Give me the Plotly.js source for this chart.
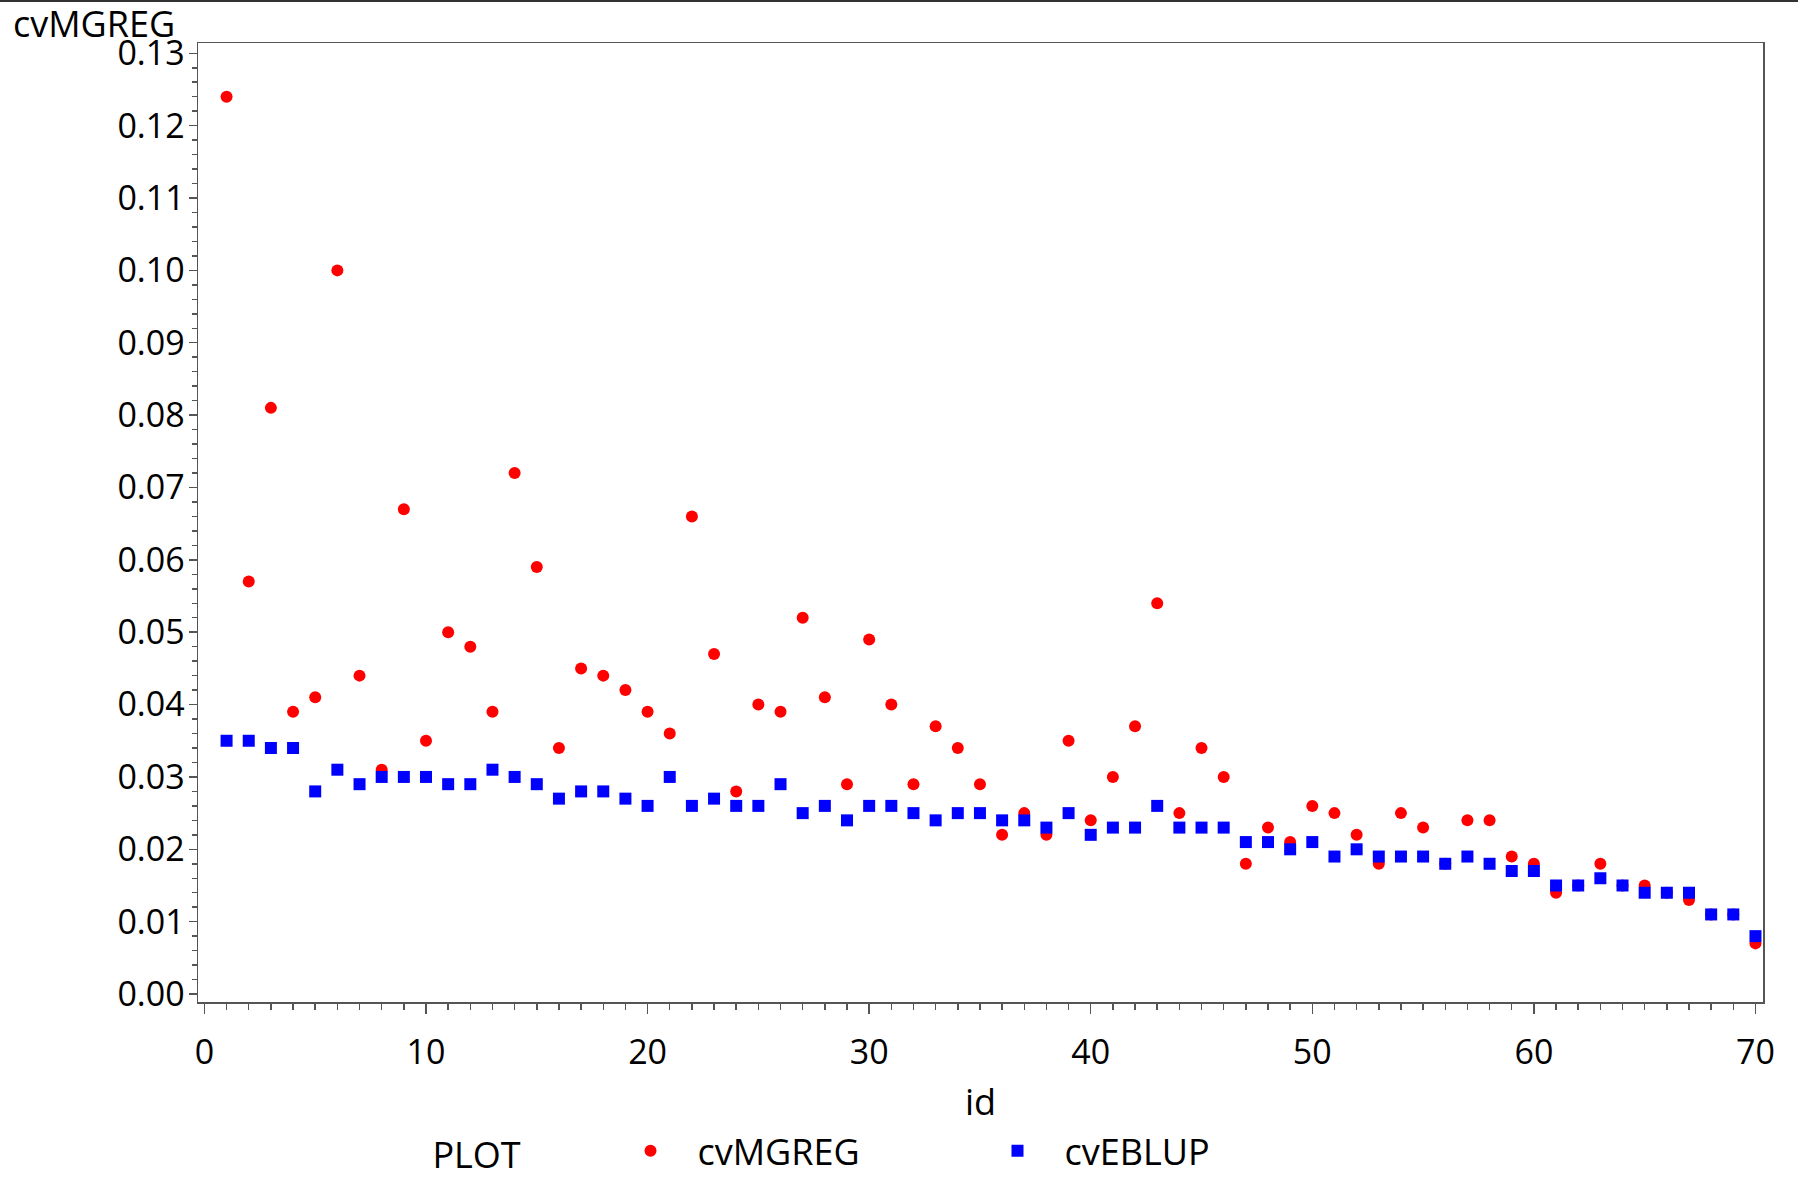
<!DOCTYPE html>
<html>
<head>
<meta charset="utf-8">
<script src="https://cdn.plot.ly/plotly-3.0.1.min.js"></script>
<style>
  html, body { margin: 0; padding: 0; background: #ffffff; }
  #chart { width: 1798px; height: 1176px; border-top: 2px solid #333333; }
</style>
</head>
<body>
<div id="chart"></div>
<script>
// ---- data ----
var ids = [1,2,3,4,5,6,7,8,9,10,11,12,13,14,15,16,17,18,19,20,
           21,22,23,24,25,26,27,28,29,30,31,32,33,34,35,36,37,38,39,40,
           41,42,43,44,45,46,47,48,49,50,51,52,53,54,55,56,57,58,59,60,
           61,62,63,64,65,66,67,68,69,70];

var cvMGREG = [0.124,0.057,0.081,0.039,0.041,0.100,0.044,0.031,0.067,0.035,
               0.050,0.048,0.039,0.072,0.059,0.034,0.045,0.044,0.042,0.039,
               0.036,0.066,0.047,0.028,0.040,0.039,0.052,0.041,0.029,0.049,
               0.040,0.029,0.037,0.034,0.029,0.022,0.025,0.022,0.035,0.024,
               0.030,0.037,0.054,0.025,0.034,0.030,0.018,0.023,0.021,0.026,
               0.025,0.022,0.018,0.025,0.023,0.018,0.024,0.024,0.019,0.018,
               0.014,0.015,0.018,0.015,0.015,0.014,0.013,0.011,0.011,0.007];

var cvEBLUP = [0.035,0.035,0.034,0.034,0.028,0.031,0.029,0.030,0.030,0.030,
               0.029,0.029,0.031,0.030,0.029,0.027,0.028,0.028,0.027,0.026,
               0.030,0.026,0.027,0.026,0.026,0.029,0.025,0.026,0.024,0.026,
               0.026,0.025,0.024,0.025,0.025,0.024,0.024,0.023,0.025,0.022,
               0.023,0.023,0.026,0.023,0.023,0.023,0.021,0.021,0.020,0.021,
               0.019,0.020,0.019,0.019,0.019,0.018,0.019,0.018,0.017,0.017,
               0.015,0.015,0.016,0.015,0.014,0.014,0.014,0.011,0.011,0.008];

var seriesNames = ['cvMGREG', 'cvEBLUP'];
var xTitle = 'id';
var yTitle = 'cvMGREG';
var legendTitle = 'PLOT';

// ---- chart ----
var FONT = 'Open Sans, Noto Sans, sans-serif';
var AXIS_GREY = '#555555';
var TITLE_GAP = '&nbsp;&nbsp;&nbsp;&nbsp;&nbsp;&nbsp;&nbsp;&nbsp;';

var traces = [
  {
    x: ids, y: cvMGREG, name: seriesNames[0], type: 'scatter', mode: 'markers',
    marker: { color: '#ff0000', size: 12, symbol: 'circle' },
    cliponaxis: true
  },
  {
    x: ids, y: cvEBLUP, name: seriesNames[1], type: 'scatter', mode: 'markers',
    marker: { color: '#0000ff', size: 12, symbol: 'square' },
    cliponaxis: true
  }
];

var layout = {
  width: 1798,
  height: 1176,
  margin: { l: 198, r: 34.5, t: 41, b: 176, autoexpand: false },
  paper_bgcolor: '#ffffff',
  plot_bgcolor: '#ffffff',
  font: { family: FONT, size: 36, color: '#000000' },
  showlegend: true,
  legend: {
    orientation: 'h',
    x: 0.1485, xanchor: 'left',
    y: -0.1551, yanchor: 'middle',
    title: { text: legendTitle + TITLE_GAP, side: 'left', font: { family: FONT, size: 36 } },
    font: { family: FONT, size: 36 },
    itemwidth: 84,
    entrywidth: 268,
    bgcolor: 'rgba(0,0,0,0)'
  },
  xaxis: {
    range: [-0.29, 70.34],
    showgrid: false, zeroline: false,
    showline: true, linecolor: AXIS_GREY, linewidth: 1.5, mirror: true,
    ticks: 'outside', ticklen: 10, tickwidth: 1.5, tickcolor: AXIS_GREY,
    tick0: 0, dtick: 10,
    ticklabelstandoff: 10,
    tickfont: { family: FONT, size: 34, color: '#000000' },
    minor: { ticks: 'outside', ticklen: 6, tickwidth: 1.5, tickcolor: AXIS_GREY, dtick: 1, tick0: 0, showgrid: false },
    title: { text: xTitle, font: { family: FONT, size: 36 }, standoff: 16 }
  },
  yaxis: {
    range: [-0.0011, 0.13142],
    showgrid: false, zeroline: false,
    showline: true, linecolor: AXIS_GREY, linewidth: 1.5, mirror: true,
    ticks: 'outside', ticklen: 8, tickwidth: 1.5, tickcolor: AXIS_GREY,
    tick0: 0, dtick: 0.01, tickformat: '.2f',
    ticklabelstandoff: -3,
    tickfont: { family: FONT, size: 34, color: '#000000' },
    minor: { ticks: 'outside', ticklen: 5, tickwidth: 1.5, tickcolor: AXIS_GREY, dtick: 0.002, tick0: 0, showgrid: false }
  },
  annotations: [
    {
      text: yTitle, xref: 'paper', yref: 'paper',
      x: -0.1191, xanchor: 'left', y: 1.0205, yanchor: 'middle',
      borderpad: 0,
      showarrow: false, font: { family: FONT, size: 36, color: '#000000' }
    }
  ]
};

Plotly.newPlot('chart', traces, layout, { displayModeBar: false, staticPlot: true });
</script>
</body>
</html>
